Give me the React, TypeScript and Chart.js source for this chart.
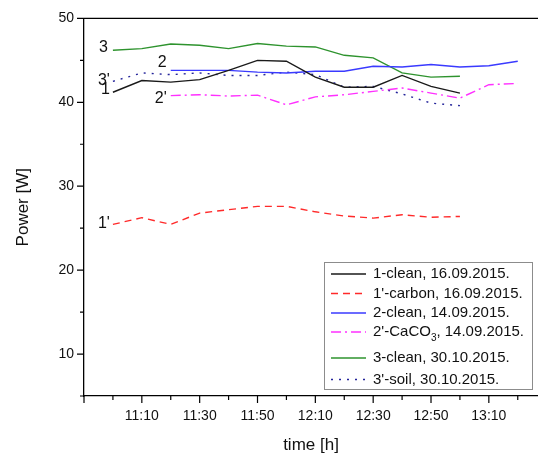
import React, { useEffect, useRef } from 'react';
import { Chart, registerables } from 'chart.js';

Chart.register(...registerables);

// ---- data (time in minutes after midnight) ----
const timesSeptA = [660, 670, 680, 690, 700, 710, 720, 730, 740, 750, 760, 770, 780]; // 11:00 .. 13:00
const timesSeptB = [680, 690, 700, 710, 720, 730, 740, 750, 760, 770, 780, 790, 800]; // 11:20 .. 13:20
const timesOct = [660, 670, 680, 690, 700, 710, 720, 730, 740, 750, 760, 770, 780];

const clean1 = [41.2, 42.6, 42.4, 42.7, 43.8, 45.0, 44.9, 43.0, 41.8, 41.8, 43.2, 41.9, 41.1];
const carbon1 = [25.45, 26.25, 25.45, 26.8, 27.2, 27.6, 27.6, 26.95, 26.45, 26.2, 26.6, 26.3, 26.4];
const clean2 = [43.8, 43.8, 43.8, 43.6, 43.5, 43.7, 43.7, 44.3, 44.2, 44.5, 44.2, 44.35, 44.9];
const caco2 = [40.8, 40.9, 40.75, 40.85, 39.7, 40.65, 40.9, 41.3, 41.7, 41.1, 40.5, 42.1, 42.25];
const clean3 = [46.2, 46.4, 46.95, 46.8, 46.4, 47.0, 46.7, 46.6, 45.6, 45.3, 43.5, 43.0, 43.1];
const soil3 = [42.5, 43.5, 43.3, 43.5, 43.2, 43.2, 43.6, 43.3, 41.8, 41.9, 41.0, 39.9, 39.6];

const seriesLabels = [
  '1-clean, 16.09.2015.',
  "1'-carbon, 16.09.2015.",
  '2-clean, 14.09.2015.',
  "2'-CaCO\u2083, 14.09.2015.",
  '3-clean, 30.10.2015.',
  "3'-soil, 30.10.2015.",
];
const curveNames = ['1', "1'", '2', "2'", '3', "3'"];

const xMajorTicks = [650, 670, 690, 710, 730, 750, 770, 790];
const xMinorTicks = [660, 680, 700, 720, 740, 760, 780, 800];
const xLabelledTicks = [670, 690, 710, 730, 750, 770, 790];
const yMajorTicks = [10, 20, 30, 40, 50];
const yMinorTicks = [5, 15, 25, 35, 45];

const X_MIN = 650;
const X_MAX = 807;
const Y_MIN = 5;
const Y_MAX = 50;

// ---- styles ----
const FONT = '"Liberation Sans", Arial, sans-serif';
const styles = [
  { color: '#1a1a1a', dash: [] as number[] },
  { color: '#ff2a2a', dash: [7, 5] },
  { color: '#3a3aff', dash: [] as number[] },
  { color: '#ff30ff', dash: [10, 4, 2, 4] },
  { color: '#2e932e', dash: [] as number[] },
  { color: '#23239a', dash: [2, 6] },
];
const labelOffsets = [
  { dx: -3, dy: -3 },
  { dx: -3, dy: -1 },
  { dx: -4, dy: -8 },
  { dx: -4, dy: 3 },
  { dx: -5, dy: -3 },
  { dx: -3, dy: -1 },
];

const fmt = (m: number) => `${Math.floor(m / 60)}:${String(m % 60).padStart(2, '0')}`;

const decorPlugin = {
  id: 'decor',
  afterDraw(chart: any) {
    const ctx: CanvasRenderingContext2D = chart.ctx;
    const { left, right, top, bottom } = chart.chartArea;
    const xs = chart.scales.x;
    const ys = chart.scales.y;
    ctx.save();
    ctx.strokeStyle = '#000';
    ctx.lineWidth = 1.3;
    ctx.setLineDash([]);
    // top frame line
    ctx.beginPath();
    ctx.moveTo(left, top);
    ctx.lineTo(right, top);
    ctx.stroke();
    // tick marks
    ctx.lineWidth = 1.2;
    ctx.beginPath();
    xMajorTicks.forEach((v) => {
      const p = xs.getPixelForValue(v);
      ctx.moveTo(p, bottom);
      ctx.lineTo(p, bottom + 7);
    });
    xMinorTicks.forEach((v) => {
      const p = xs.getPixelForValue(v);
      ctx.moveTo(p, bottom);
      ctx.lineTo(p, bottom + 4);
    });
    yMajorTicks.forEach((v) => {
      const p = ys.getPixelForValue(v);
      ctx.moveTo(left, p);
      ctx.lineTo(left - 7, p);
    });
    yMinorTicks.forEach((v) => {
      const p = ys.getPixelForValue(v);
      ctx.moveTo(left, p);
      ctx.lineTo(left - 4, p);
    });
    ctx.stroke();

    // curve labels
    ctx.fillStyle = '#111';
    ctx.font = `16px ${FONT}`;
    ctx.textAlign = 'right';
    ctx.textBaseline = 'middle';
    chart.data.datasets.forEach((ds: any, i: number) => {
      const meta = chart.getDatasetMeta(i);
      const p = meta.data[0];
      if (!p) return;
      const o = labelOffsets[i];
      ctx.fillText(curveNames[i], p.x + o.dx, p.y + o.dy);
    });

    // legend
    const L = { x: 324, y: 262, w: 208, h: 127 };
    const rows = [12, 31.5, 51, 70, 96, 117.5];
    ctx.lineWidth = 1;
    ctx.strokeStyle = '#8c8c8c';
    ctx.strokeRect(L.x + 0.5, L.y + 0.5, L.w, L.h);
    ctx.textAlign = 'left';
    ctx.textBaseline = 'middle';
    chart.data.datasets.forEach((ds: any, i: number) => {
      const y = L.y + rows[i];
      ctx.save();
      ctx.strokeStyle = ds.borderColor;
      ctx.lineWidth = 1.4;
      ctx.setLineDash(ds.borderDash || []);
      ctx.beginPath();
      ctx.moveTo(L.x + 7, y);
      ctx.lineTo(L.x + 42, y);
      ctx.stroke();
      ctx.restore();
      ctx.fillStyle = '#111';
      ctx.font = `15px ${FONT}`;
      const text: string = ds.label;
      const parts = text.split('\u2083');
      let tx = L.x + 49;
      ctx.fillText(parts[0], tx, y);
      if (parts.length > 1) {
        tx += ctx.measureText(parts[0]).width;
        ctx.font = `10px ${FONT}`;
        ctx.fillText('3', tx, y + 6);
        tx += ctx.measureText('3').width;
        ctx.font = `15px ${FONT}`;
        ctx.fillText(parts[1], tx, y);
      }
    });
    ctx.restore();
  },
};

export default function App() {
  const ref = useRef<HTMLCanvasElement | null>(null);
  useEffect(() => {
    if (!ref.current) return;
    const mk = (xsArr: number[], ysArr: number[]) => xsArr.map((x, i) => ({ x, y: ysArr[i] }));
    const dataArrays = [
      mk(timesSeptA, clean1),
      mk(timesSeptA, carbon1),
      mk(timesSeptB, clean2),
      mk(timesSeptB, caco2),
      mk(timesOct, clean3),
      mk(timesOct, soil3),
    ];
    const chart = new Chart(ref.current, {
      type: 'line',
      data: {
        datasets: dataArrays.map((d, i) => ({
          label: seriesLabels[i],
          data: d,
          borderColor: styles[i].color,
          backgroundColor: styles[i].color,
          borderDash: styles[i].dash,
          borderWidth: 1.4,
          pointRadius: 0,
          tension: 0,
          fill: false,
        })),
      },
      options: {
        responsive: false,
        animation: false,
        devicePixelRatio: 1,
        layout: { padding: { top: 15, left: 0, right: 0, bottom: 0 } },
        plugins: { legend: { display: false }, tooltip: { enabled: false } },
        scales: {
          x: {
            type: 'linear',
            min: X_MIN,
            max: X_MAX,
            grid: { display: false, drawTicks: false },
            border: { display: true, color: '#000', width: 1.3 },
            afterBuildTicks: (s: any) => {
              s.ticks = [...xMajorTicks, ...xMinorTicks].sort((a, b) => a - b).map((v) => ({ value: v }));
            },
            ticks: {
              autoSkip: false,
              maxRotation: 0,
              padding: 12,
              color: '#111',
              font: { family: FONT, size: 14 },
              callback: (v: any) => (xLabelledTicks.includes(Number(v)) ? fmt(Number(v)) : ''),
            },
            title: {
              display: true,
              text: 'time [h]',
              color: '#111',
              font: { family: FONT, size: 17, lineHeight: 1 },
              padding: { top: 0, bottom: 0.5 },
            },
            afterFit: (s: any) => {
              s.height = 58;
            },
          },
          y: {
            type: 'linear',
            min: Y_MIN,
            max: Y_MAX,
            grid: { display: false, drawTicks: false },
            border: { display: true, color: '#000', width: 1.3 },
            afterBuildTicks: (s: any) => {
              s.ticks = [...yMajorTicks, ...yMinorTicks].sort((a, b) => a - b).map((v) => ({ value: v }));
            },
            ticks: {
              autoSkip: false,
              padding: 10,
              color: '#111',
              font: { family: FONT, size: 14 },
              callback: (v: any) => (yMajorTicks.includes(Number(v)) ? String(v) : ''),
            },
            title: {
              display: true,
              text: 'Power [W]',
              color: '#111',
              font: { family: FONT, size: 17, lineHeight: 1 },
              padding: { top: 14.5, bottom: 0 },
            },
            afterFit: (s: any) => {
              s.width = 84;
            },
          },
        },
      },
      plugins: [decorPlugin],
    } as any);
    return () => chart.destroy();
  }, []);
  return (
    <div style={{ position: 'absolute', left: 0, top: 0, width: 538, height: 454, background: '#fff' }}>
      <canvas ref={ref} width={538} height={454} style={{ display: 'block', width: 538, height: 454 }} />
    </div>
  );
}
